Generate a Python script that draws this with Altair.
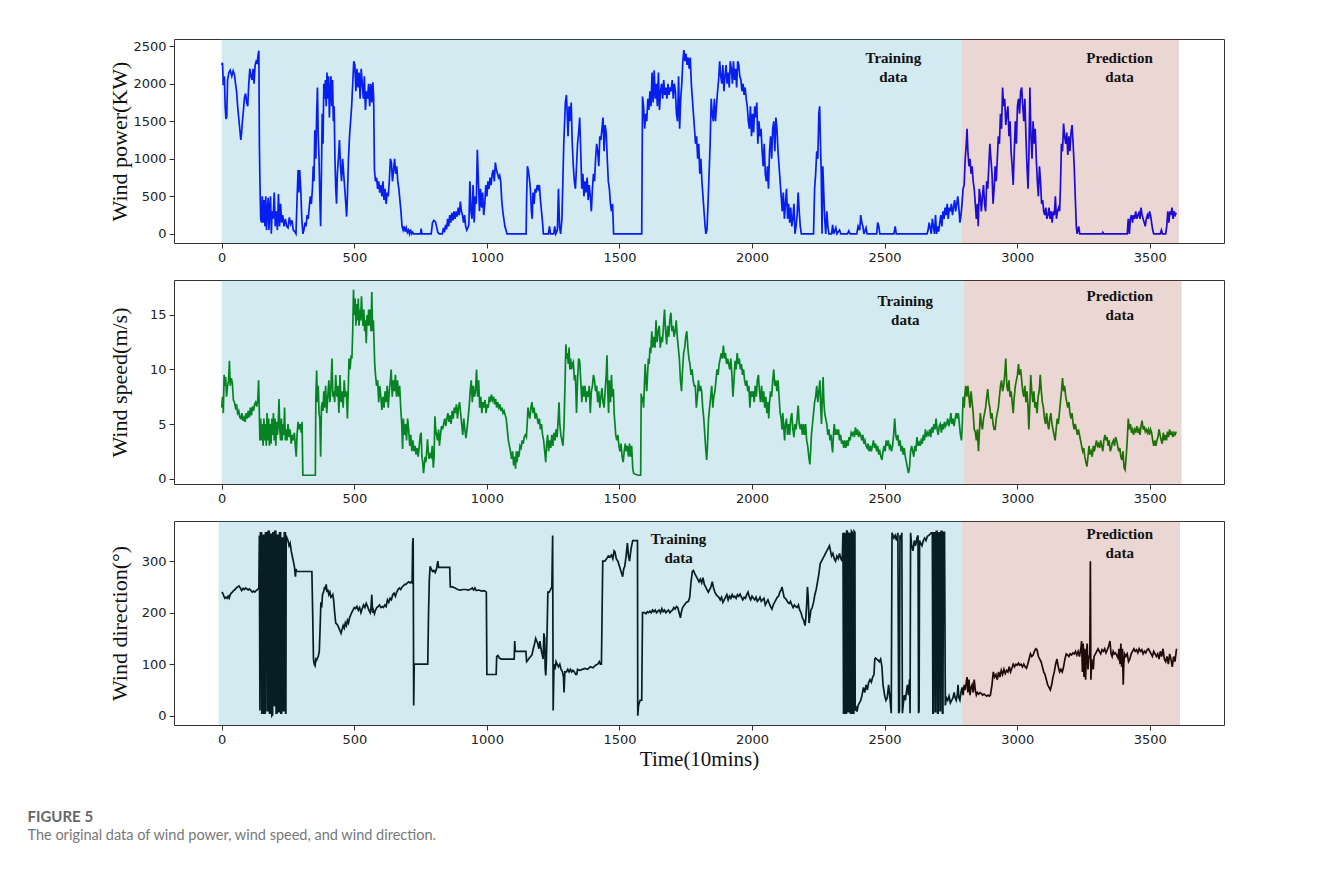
import altair as alt
import pandas as pd

# ---------------- data ----------------
X_TICKS = [0, 500, 1000, 1500, 2000, 2500, 3000, 3500]

POWER = [(0,2250),(3,2280),(6,1980),(10,2100),(13,1700),(16,1530),(19,1560),(22,2050),(27,2150),(32,2180),(38,2100),(43,2170),(48,2120),(52,2000),(56,1900),(60,1700),(64,1550),(68,1400),(72,1250),(75,1350),(78,1500),(82,1650),(86,1820),(90,1870),(94,1750),(98,1700),(102,2000),(106,2200),(110,2100),(114,2050),(118,2200),(122,2000),(126,2250),(130,2300),(134,2280),(137,2380),(140,2440),(142,1200),(144,700),(147,200),(150,150),(153,500),(156,150),(160,450),(163,100),(166,500),(169,50),(172,300),(175,480),(178,50),(181,350),(184,500),(187,0),(190,300),(194,200),(198,550),(202,100),(206,300),(210,50),(214,530),(218,100),(222,400),(226,150),(230,250),(235,100),(240,200),(245,100),(250,80),(255,220),(260,130),(265,180),(270,50),(275,30),(280,0),(284,450),(288,850),(291,550),(294,850),(298,600),(302,200),(306,0),(310,50),(314,150),(318,100),(322,250),(326,200),(330,350),(334,500),(338,400),(342,600),(345,900),(348,700),(351,1380),(355,1000),(358,1600),(361,1950),(364,1300),(367,1000),(370,500),(373,100),(376,800),(379,1600),(382,1200),(385,2000),(388,1800),(391,2050),(394,1700),(397,2150),(400,1800),(403,2100),(406,1550),(409,1900),(412,2100),(415,1700),(418,2050),(421,1500),(424,1700),(427,1000),(430,600),(433,400),(436,800),(440,1000),(444,1250),(448,900),(452,700),(456,1000),(460,800),(464,600),(468,400),(471,230),(474,500),(478,1000),(482,1300),(486,1500),(490,1700),(494,2000),(498,2300),(502,2250),(506,1900),(510,2200),(514,1950),(518,2150),(522,1800),(526,2200),(530,2000),(534,1800),(538,2100),(542,1650),(546,1900),(550,1800),(554,2000),(558,1700),(562,2000),(566,1750),(570,2020),(573,1800),(576,850),(580,700),(584,750),(588,600),(592,700),(596,550),(600,650),(604,500),(608,700),(612,450),(616,600),(620,400),(624,550),(628,500),(632,700),(636,1000),(640,950),(644,700),(648,850),(652,1000),(656,800),(660,900),(664,700),(668,600),(672,450),(676,300),(680,100),(684,50),(688,100),(692,30),(696,80),(700,20),(704,50),(708,0),(712,60),(716,0),(720,20),(724,0),(750,0),(752,70),(755,0),(790,0),(795,150),(800,180),(806,160),(810,100),(815,20),(820,0),(832,0),(836,80),(840,20),(844,120),(848,60),(852,200),(856,100),(860,250),(864,150),(868,280),(872,180),(876,300),(880,200),(884,300),(888,230),(892,350),(896,250),(900,430),(904,300),(908,250),(912,150),(916,250),(920,100),(924,50),(928,80),(932,120),(936,700),(940,300),(944,200),(948,650),(952,150),(956,500),(960,400),(964,1120),(968,700),(972,300),(976,600),(980,350),(984,550),(988,250),(992,400),(996,650),(1000,500),(1004,700),(1008,600),(1012,750),(1016,650),(1020,800),(1024,850),(1028,700),(1032,950),(1036,850),(1040,800),(1044,750),(1048,780),(1052,700),(1056,450),(1060,300),(1064,200),(1068,100),(1072,50),(1076,0),(1148,0),(1150,500),(1153,900),(1156,850),(1160,750),(1164,600),(1168,300),(1171,200),(1174,550),(1178,400),(1182,600),(1186,550),(1190,650),(1194,600),(1198,650),(1202,450),(1206,300),(1210,150),(1213,0),(1232,0),(1236,100),(1240,0),(1252,0),(1256,100),(1260,0),(1266,50),(1270,600),(1274,100),(1278,0),(1283,200),(1290,1200),(1296,1750),(1300,1850),(1303,1600),(1306,1300),(1310,1700),(1314,1500),(1318,1750),(1322,1200),(1326,900),(1330,700),(1334,600),(1338,900),(1342,1200),(1346,1350),(1350,1550),(1354,1100),(1358,600),(1362,800),(1366,500),(1370,700),(1374,550),(1378,750),(1382,450),(1386,650),(1390,500),(1394,300),(1398,600),(1402,800),(1406,700),(1410,1000),(1414,1200),(1418,1100),(1422,900),(1426,1300),(1430,1250),(1434,1400),(1438,1550),(1442,1100),(1446,1450),(1450,1350),(1454,1000),(1458,700),(1462,600),(1466,400),(1470,300),(1474,400),(1478,0),(1584,0),(1587,1830),(1591,1700),(1595,1400),(1599,1600),(1603,1500),(1607,1800),(1611,1650),(1615,1900),(1619,1700),(1623,2150),(1627,1750),(1631,2180),(1635,1800),(1639,2000),(1643,1700),(1647,2150),(1651,1650),(1655,1900),(1659,2000),(1663,1800),(1667,2050),(1671,1850),(1675,1950),(1679,1800),(1683,2000),(1687,1850),(1691,1950),(1695,1900),(1699,2050),(1703,1800),(1707,2000),(1711,1900),(1715,1600),(1719,1500),(1723,2100),(1727,1400),(1731,1800),(1735,2000),(1739,2300),(1743,2450),(1747,2300),(1751,2400),(1755,2250),(1759,2350),(1763,2200),(1767,2350),(1771,2000),(1775,1800),(1779,1600),(1783,1400),(1787,1200),(1791,1300),(1795,1000),(1799,1200),(1803,800),(1807,1000),(1811,700),(1815,500),(1819,300),(1823,100),(1826,0),(1830,50),(1834,400),(1838,800),(1842,1200),(1846,1800),(1850,1600),(1854,1500),(1858,1800),(1862,1500),(1866,1700),(1870,1900),(1874,2050),(1878,2300),(1882,2100),(1886,2000),(1890,2250),(1894,1900),(1898,2100),(1902,2250),(1906,2000),(1910,2150),(1914,1950),(1918,2300),(1922,2200),(1926,2000),(1930,2300),(1934,2050),(1938,2200),(1942,1950),(1946,2300),(1950,2250),(1954,2100),(1958,2050),(1962,1900),(1966,2000),(1970,1850),(1974,1950),(1978,1800),(1982,1700),(1986,1500),(1990,1400),(1994,1700),(1998,1300),(2002,1600),(2006,1350),(2010,1700),(2014,1550),(2018,1750),(2022,1200),(2026,1500),(2030,1300),(2034,1400),(2038,1100),(2042,900),(2046,1200),(2050,800),(2054,700),(2058,900),(2062,600),(2066,1100),(2070,1300),(2074,1000),(2078,1400),(2082,1500),(2086,1100),(2090,1550),(2094,1400),(2098,1100),(2102,900),(2106,700),(2110,500),(2114,300),(2118,550),(2122,200),(2126,400),(2130,600),(2134,200),(2138,400),(2142,150),(2146,350),(2150,100),(2154,200),(2158,400),(2162,0),(2166,100),(2170,250),(2174,550),(2178,300),(2182,100),(2186,0),(2232,0),(2236,600),(2240,800),(2244,1100),(2248,1000),(2252,1600),(2255,1700),(2258,1200),(2261,800),(2264,0),(2267,900),(2270,600),(2274,200),(2278,0),(2282,300),(2286,100),(2290,0),(2300,0),(2304,120),(2308,0),(2316,80),(2320,0),(2330,50),(2335,0),(2360,0),(2365,40),(2370,0),(2395,0),(2400,100),(2406,50),(2410,250),(2414,150),(2418,100),(2422,0),(2430,80),(2434,0),(2470,0),(2474,150),(2478,100),(2482,0),(2535,0),(2540,100),(2544,0),(2660,0),(2664,50),(2668,150),(2672,80),(2676,0),(2680,200),(2684,100),(2688,0),(2692,250),(2696,0),(2700,100),(2704,30),(2708,150),(2712,250),(2716,100),(2720,300),(2724,200),(2728,350),(2732,250),(2736,400),(2740,200),(2744,350),(2748,300),(2752,400),(2756,250),(2760,350),(2764,450),(2768,300),(2772,400),(2776,500),(2780,350),(2784,150),(2788,250),(2792,400),(2796,600),(2800,650),(2804,1000),(2808,1200),(2811,1400),(2814,1100),(2818,900),(2822,1000),(2826,800),(2830,900),(2834,700),(2838,600),(2842,400),(2846,200),(2850,400),(2853,100),(2857,600),(2861,500),(2865,300),(2869,500),(2873,650),(2877,400),(2881,300),(2885,700),(2889,600),(2893,900),(2897,1200),(2901,1000),(2905,800),(2909,400),(2913,600),(2917,900),(2921,700),(2925,1000),(2929,1300),(2933,1200),(2937,1600),(2941,1400),(2945,1950),(2949,1700),(2953,1800),(2957,1450),(2961,1600),(2965,1700),(2969,1300),(2973,1500),(2977,1100),(2981,900),(2985,650),(2989,1100),(2993,1500),(2997,1200),(3001,1700),(3005,1800),(3009,1600),(3013,1900),(3017,1950),(3021,1700),(3025,1500),(3029,1800),(3033,1300),(3037,900),(3041,600),(3044,1000),(3048,1950),(3052,1300),(3056,1000),(3060,1500),(3064,1200),(3068,1400),(3072,1000),(3076,700),(3080,500),(3084,900),(3088,700),(3092,400),(3096,450),(3100,300),(3104,250),(3108,350),(3112,200),(3116,250),(3120,350),(3124,200),(3128,300),(3132,150),(3136,300),(3140,250),(3144,500),(3148,200),(3152,300),(3156,350),(3160,300),(3163,600),(3167,1200),(3171,1100),(3175,1470),(3179,1300),(3183,1200),(3187,1350),(3191,1050),(3195,1300),(3199,1100),(3203,1350),(3207,1450),(3211,1200),(3215,900),(3219,500),(3223,100),(3226,0),(3232,100),(3236,0),(3320,0),(3323,20),(3326,0),(3415,0),(3419,200),(3423,0),(3427,200),(3431,250),(3435,150),(3439,250),(3443,200),(3447,300),(3451,200),(3455,250),(3459,280),(3463,200),(3467,350),(3471,250),(3475,200),(3479,150),(3483,100),(3487,200),(3491,250),(3495,200),(3499,300),(3503,250),(3507,150),(3511,50),(3515,0),(3540,0),(3544,50),(3548,0),(3560,0),(3564,100),(3568,300),(3572,150),(3576,300),(3580,250),(3584,350),(3588,200),(3592,300),(3596,250),(3600,280)]

SPEED = [(0,6.5),(3,7.5),(6,6.0),(9,9.5),(12,8.5),(15,9.3),(18,7.5),(22,8.5),(26,9.0),(29,10.8),(32,8.5),(36,9.2),(40,8.8),(44,7.2),(48,7.0),(52,6.5),(56,6.8),(60,6.0),(64,6.2),(68,5.6),(72,5.5),(76,6.0),(80,5.3),(84,5.6),(88,5.2),(92,6.0),(96,5.5),(100,6.2),(104,5.6),(108,6.5),(112,5.8),(116,6.6),(120,6.2),(124,6.8),(128,7.0),(132,6.6),(136,7.2),(139,9.0),(141,7.0),(144,3.5),(147,5.5),(150,3.5),(153,5.0),(156,3.0),(159,5.5),(162,3.5),(165,5.0),(168,3.0),(171,6.0),(174,3.5),(177,5.5),(180,3.0),(183,5.0),(186,3.2),(189,5.5),(192,4.0),(195,6.0),(198,3.5),(201,5.5),(204,3.0),(207,5.2),(210,4.0),(213,5.0),(216,7.3),(219,4.5),(222,3.5),(225,5.5),(228,3.5),(231,5.0),(234,4.0),(237,6.5),(240,3.5),(243,4.5),(246,3.5),(250,5.0),(254,3.8),(258,4.5),(262,3.2),(266,4.0),(270,3.5),(274,4.2),(278,2.8),(281,2.0),(284,4.0),(288,5.2),(292,4.5),(296,5.0),(300,4.2),(303,5.2),(306,0.3),(353,0.3),(355,7.5),(358,9.9),(361,7.0),(364,8.5),(367,6.0),(370,5.5),(373,2.0),(376,6.5),(379,7.0),(382,6.2),(385,8.0),(388,6.5),(392,8.5),(396,6.0),(400,7.5),(404,9.0),(408,7.0),(412,8.5),(416,11.0),(419,7.5),(422,8.0),(426,7.0),(430,9.5),(434,7.5),(438,8.5),(442,6.0),(446,9.5),(450,7.0),(454,8.0),(458,6.5),(462,9.0),(466,7.5),(470,8.0),(474,5.5),(477,8.0),(480,11.0),(484,10.0),(488,11.3),(491,11.0),(494,13.5),(497,17.3),(500,15.0),(503,16.5),(506,14.0),(509,16.0),(512,14.5),(515,16.5),(518,14.0),(521,15.5),(524,14.5),(527,16.7),(530,15.0),(533,14.0),(536,15.5),(539,13.5),(542,14.5),(545,12.4),(548,15.0),(551,14.0),(554,15.5),(557,14.0),(560,15.5),(563,13.5),(566,17.1),(569,13.5),(572,14.5),(575,12.0),(577,10.5),(580,9.5),(584,8.5),(588,9.0),(592,7.0),(596,8.5),(600,7.5),(604,6.3),(608,7.5),(612,6.5),(616,8.0),(620,7.0),(624,8.5),(628,6.5),(632,8.0),(636,9.0),(639,10.0),(643,7.5),(647,9.0),(651,8.0),(655,9.5),(659,7.5),(663,9.0),(667,7.5),(671,8.5),(675,6.5),(679,5.0),(682,2.7),(685,5.5),(689,4.0),(693,5.0),(697,3.5),(701,5.5),(705,4.5),(709,3.0),(713,4.0),(717,2.5),(721,3.5),(725,2.5),(729,3.0),(733,2.2),(737,2.8),(741,2.0),(745,3.0),(749,4.0),(752,4.2),(755,2.0),(758,1.5),(761,0.5),(764,1.2),(767,2.0),(770,1.5),(773,2.5),(776,3.6),(779,2.5),(782,1.8),(786,2.2),(790,2.0),(794,3.0),(798,1.0),(801,2.0),(804,5.7),(807,4.5),(810,4.0),(814,3.5),(818,4.5),(821,3.0),(825,4.0),(829,4.8),(833,4.5),(837,5.0),(841,5.5),(845,4.8),(849,5.5),(853,6.0),(857,5.2),(861,5.8),(865,5.0),(869,6.2),(873,5.5),(877,6.5),(881,6.0),(885,6.8),(889,5.5),(893,6.5),(897,7.0),(901,6.0),(905,5.0),(909,4.0),(913,5.5),(917,4.5),(921,3.7),(925,4.5),(929,5.5),(933,6.5),(937,8.0),(941,9.0),(945,7.0),(949,8.5),(953,7.5),(957,8.0),(961,10.0),(965,7.5),(969,9.0),(973,6.5),(977,7.5),(981,6.0),(985,7.0),(989,6.5),(993,7.2),(997,6.0),(1001,6.8),(1005,6.5),(1009,7.5),(1013,7.0),(1017,7.7),(1021,7.2),(1025,7.5),(1029,6.8),(1033,7.3),(1037,6.5),(1041,7.0),(1045,6.5),(1049,6.8),(1053,6.2),(1057,6.5),(1061,6.0),(1065,6.2),(1069,5.8),(1073,5.5),(1077,4.5),(1081,3.5),(1085,3.0),(1089,2.5),(1093,1.8),(1097,2.5),(1101,1.2),(1105,2.0),(1108,0.9),(1111,2.5),(1114,1.5),(1117,2.5),(1121,2.0),(1125,3.0),(1129,2.8),(1133,3.5),(1137,3.2),(1141,3.8),(1145,4.0),(1149,3.8),(1152,5.0),(1155,6.5),(1158,6.0),(1162,5.5),(1166,6.5),(1170,7.0),(1174,6.0),(1178,6.5),(1182,5.5),(1186,6.0),(1190,5.5),(1194,5.0),(1198,5.5),(1202,4.5),(1206,5.0),(1210,4.0),(1214,3.5),(1218,2.5),(1222,1.5),(1225,3.0),(1229,4.0),(1233,2.5),(1237,3.5),(1241,2.8),(1245,4.0),(1249,3.0),(1253,4.2),(1257,3.5),(1261,4.5),(1265,3.8),(1269,5.5),(1272,7.0),(1275,5.0),(1279,4.0),(1283,3.5),(1287,3.0),(1291,5.0),(1295,9.0),(1298,12.3),(1301,11.0),(1304,11.5),(1307,10.5),(1310,12.0),(1313,10.0),(1316,11.0),(1319,10.0),(1322,10.5),(1326,10.7),(1330,9.0),(1334,9.5),(1338,6.0),(1342,9.0),(1346,11.0),(1350,10.8),(1354,9.0),(1358,7.0),(1362,8.5),(1366,7.5),(1370,8.5),(1374,7.0),(1378,8.0),(1382,7.5),(1386,8.5),(1390,6.0),(1394,8.0),(1398,8.5),(1402,9.5),(1406,9.0),(1410,8.0),(1414,8.5),(1418,7.0),(1422,8.0),(1426,6.5),(1430,7.5),(1434,8.3),(1438,7.0),(1442,6.5),(1446,8.0),(1450,9.5),(1453,11.3),(1456,8.0),(1459,6.0),(1462,9.0),(1466,7.0),(1470,9.5),(1473,7.5),(1477,8.2),(1480,6.0),(1483,5.0),(1486,4.0),(1490,3.5),(1494,4.0),(1498,3.0),(1502,2.5),(1506,3.2),(1510,2.0),(1514,1.5),(1518,2.5),(1522,3.2),(1526,2.5),(1530,3.0),(1534,2.0),(1538,3.2),(1542,2.0),(1546,3.0),(1550,1.0),(1553,0.5),(1560,0.4),(1570,0.3),(1580,0.3),(1582,7.8),(1585,7.0),(1588,7.5),(1591,6.5),(1594,8.5),(1597,10.5),(1600,9.0),(1603,8.0),(1606,9.5),(1609,11.0),(1612,10.5),(1615,12.0),(1618,11.5),(1622,13.5),(1626,12.0),(1630,13.0),(1634,12.0),(1638,14.5),(1642,12.5),(1646,13.5),(1650,14.0),(1654,12.0),(1658,13.0),(1662,12.5),(1666,14.0),(1670,15.5),(1674,13.5),(1678,12.3),(1682,14.0),(1686,13.0),(1690,14.5),(1694,15.2),(1698,13.5),(1702,14.0),(1706,13.0),(1710,13.5),(1714,14.5),(1718,13.0),(1722,12.0),(1726,11.0),(1730,9.0),(1734,8.0),(1738,10.0),(1742,11.5),(1746,12.0),(1750,13.0),(1754,13.5),(1758,12.0),(1762,11.0),(1766,10.5),(1770,9.5),(1774,10.0),(1778,9.0),(1782,8.5),(1786,8.5),(1790,6.5),(1794,7.5),(1798,9.0),(1802,8.0),(1806,8.5),(1810,8.0),(1814,6.5),(1818,5.5),(1822,4.0),(1826,2.5),(1829,1.7),(1832,3.0),(1836,5.5),(1840,6.5),(1844,7.5),(1848,8.5),(1852,6.5),(1856,7.5),(1860,8.0),(1864,9.0),(1868,10.0),(1872,9.5),(1876,10.5),(1880,11.0),(1884,11.5),(1888,11.0),(1892,12.2),(1896,11.0),(1900,11.5),(1904,10.5),(1908,11.0),(1912,10.5),(1916,10.0),(1920,11.0),(1924,9.5),(1928,7.5),(1932,9.0),(1936,10.8),(1940,10.0),(1944,11.5),(1948,10.5),(1952,11.0),(1956,10.0),(1960,10.5),(1964,9.5),(1968,10.0),(1972,9.0),(1976,8.5),(1980,9.0),(1984,8.0),(1988,8.5),(1992,6.5),(1996,8.0),(2000,7.5),(2004,8.0),(2008,7.0),(2012,8.5),(2016,7.5),(2020,9.0),(2024,9.5),(2028,8.0),(2032,7.0),(2036,8.5),(2040,7.0),(2044,8.0),(2048,6.5),(2052,7.5),(2056,6.0),(2060,7.0),(2063,5.5),(2066,7.0),(2070,8.0),(2074,7.5),(2078,9.0),(2082,10.0),(2086,8.5),(2090,9.0),(2094,8.0),(2098,9.0),(2102,7.5),(2106,6.0),(2110,5.5),(2113,4.5),(2116,6.0),(2120,4.5),(2123,3.5),(2126,5.0),(2130,5.5),(2134,4.0),(2138,5.0),(2142,4.0),(2146,5.5),(2150,6.0),(2154,4.5),(2158,3.8),(2162,5.0),(2166,4.5),(2170,5.5),(2174,6.7),(2178,5.0),(2182,4.5),(2186,5.0),(2190,4.0),(2194,5.0),(2198,4.0),(2202,5.0),(2206,3.5),(2210,3.0),(2214,2.0),(2218,1.3),(2221,2.5),(2224,4.0),(2228,5.0),(2232,6.0),(2236,7.0),(2240,7.5),(2244,8.5),(2248,7.0),(2252,8.0),(2256,9.0),(2259,6.5),(2262,5.0),(2265,7.5),(2268,9.3),(2271,7.0),(2274,6.0),(2278,5.5),(2282,5.0),(2286,4.0),(2290,4.5),(2294,3.5),(2298,4.0),(2301,3.0),(2304,2.4),(2307,4.0),(2310,5.0),(2314,4.0),(2318,4.5),(2322,4.0),(2326,4.5),(2330,3.5),(2334,4.0),(2338,3.2),(2342,3.5),(2346,2.8),(2350,3.5),(2354,2.8),(2358,3.5),(2362,3.0),(2366,3.8),(2370,3.5),(2374,4.2),(2378,4.0),(2382,4.3),(2386,3.8),(2390,4.7),(2394,4.0),(2398,4.5),(2402,3.8),(2406,4.2),(2410,4.0),(2414,3.5),(2418,4.0),(2422,3.2),(2426,3.5),(2430,3.0),(2434,2.8),(2438,3.2),(2442,2.5),(2446,3.0),(2450,2.5),(2454,3.0),(2458,3.5),(2462,2.8),(2466,3.2),(2470,2.5),(2474,3.0),(2478,2.2),(2482,2.5),(2486,2.0),(2490,1.7),(2494,2.5),(2498,3.0),(2502,2.5),(2506,3.5),(2510,3.0),(2514,3.5),(2518,2.8),(2522,3.0),(2526,2.5),(2530,3.0),(2534,4.0),(2538,5.5),(2542,4.0),(2546,3.5),(2550,4.0),(2554,3.0),(2558,3.5),(2562,2.5),(2566,3.0),(2570,2.2),(2574,2.8),(2578,2.0),(2582,1.5),(2586,1.0),(2590,0.5),(2594,1.0),(2598,2.5),(2602,3.0),(2606,2.5),(2610,2.0),(2614,3.0),(2618,2.5),(2622,3.8),(2626,3.0),(2630,3.3),(2634,3.0),(2638,3.5),(2642,3.2),(2646,4.0),(2650,3.5),(2654,4.5),(2658,3.8),(2662,4.2),(2666,4.0),(2670,4.5),(2674,3.8),(2678,4.7),(2682,4.2),(2686,5.0),(2690,4.5),(2694,5.5),(2698,4.5),(2702,4.0),(2706,4.8),(2710,5.0),(2714,4.2),(2718,5.0),(2722,4.5),(2726,5.2),(2730,4.8),(2734,5.0),(2738,5.5),(2742,4.8),(2746,5.2),(2750,6.0),(2754,5.0),(2758,5.5),(2762,4.8),(2766,5.5),(2770,6.0),(2774,5.5),(2778,6.0),(2782,5.0),(2786,4.0),(2790,3.5),(2793,5.0),(2796,7.5),(2800,6.5),(2803,7.8),(2806,8.5),(2810,7.5),(2814,8.5),(2818,7.5),(2822,6.5),(2826,8.0),(2830,7.0),(2834,6.0),(2838,4.5),(2842,4.3),(2846,3.5),(2850,4.5),(2854,2.5),(2857,4.0),(2861,6.0),(2865,5.0),(2869,4.5),(2873,5.5),(2877,6.0),(2881,6.5),(2885,7.5),(2889,8.2),(2893,7.0),(2897,6.5),(2901,5.5),(2905,6.0),(2909,5.0),(2913,4.5),(2917,4.5),(2921,5.5),(2925,6.0),(2929,6.5),(2933,7.5),(2937,8.5),(2941,9.0),(2945,8.0),(2949,8.5),(2953,9.5),(2957,11.0),(2961,8.5),(2965,8.0),(2969,9.0),(2973,7.5),(2977,8.0),(2981,7.0),(2985,6.0),(2989,7.5),(2993,8.5),(2997,9.0),(3001,9.5),(3005,10.5),(3009,9.5),(3013,10.0),(3017,9.0),(3021,8.0),(3025,7.5),(3029,8.5),(3033,7.0),(3037,8.0),(3041,6.5),(3044,4.5),(3048,7.0),(3051,9.5),(3055,8.0),(3059,7.0),(3063,8.0),(3067,6.5),(3071,7.0),(3075,6.0),(3079,7.5),(3083,8.0),(3087,9.5),(3091,8.0),(3095,7.0),(3099,6.5),(3103,5.5),(3107,5.0),(3111,6.0),(3115,5.0),(3119,4.5),(3123,5.5),(3127,6.0),(3131,5.0),(3135,4.5),(3139,4.0),(3143,3.5),(3147,4.5),(3151,5.5),(3155,5.0),(3159,6.0),(3163,7.0),(3167,8.0),(3171,9.2),(3175,8.0),(3179,8.5),(3183,7.5),(3187,7.0),(3191,6.5),(3195,7.0),(3199,6.0),(3203,5.5),(3207,6.0),(3211,5.0),(3215,4.5),(3219,5.0),(3223,4.5),(3227,4.0),(3231,4.5),(3235,4.0),(3239,3.5),(3243,3.0),(3247,2.5),(3251,2.8),(3255,2.0),(3259,1.5),(3263,1.1),(3267,2.0),(3271,3.0),(3275,2.2),(3279,2.5),(3283,2.0),(3287,3.0),(3291,2.5),(3295,3.0),(3299,3.5),(3303,3.0),(3307,3.2),(3311,2.8),(3315,3.5),(3319,3.0),(3323,2.5),(3327,3.5),(3331,4.0),(3335,3.5),(3339,3.8),(3343,3.0),(3347,3.5),(3351,2.5),(3355,2.8),(3359,3.3),(3363,3.5),(3367,3.0),(3371,3.8),(3375,3.5),(3379,3.0),(3383,2.5),(3387,2.8),(3391,2.0),(3395,1.7),(3399,2.5),(3403,1.0),(3407,0.8),(3411,2.0),(3415,3.5),(3419,5.5),(3423,4.5),(3427,5.0),(3431,4.2),(3435,4.5),(3439,4.0),(3443,4.5),(3447,4.3),(3451,4.8),(3455,4.2),(3459,4.5),(3463,4.0),(3467,4.8),(3471,5.3),(3475,4.5),(3479,4.8),(3483,4.3),(3487,4.5),(3491,4.2),(3495,4.5),(3499,4.0),(3503,4.5),(3507,4.2),(3511,3.5),(3515,3.0),(3519,3.5),(3523,3.0),(3527,3.5),(3531,3.8),(3535,4.5),(3539,4.0),(3543,3.5),(3547,3.2),(3551,4.2),(3555,3.5),(3559,4.0),(3563,3.5),(3567,4.3),(3571,3.8),(3575,4.5),(3579,4.0),(3583,4.3),(3587,3.8),(3591,4.2),(3595,4.0),(3600,4.3)]

DIRECTION = [(0,240),(4,238),(8,232),(12,228),(16,230),(20,228),(24,232),(28,228),(32,235),(36,238),(40,240),(45,243),(50,245),(55,248),(60,250),(65,252),(70,248),(75,243),(80,247),(85,245),(90,248),(95,246),(100,244),(105,246),(110,243),(115,240),(120,242),(125,240),(130,243),(135,245),(140,247),(142,350),(144,10),(146,355),(150,355),(151,5),(155,5),(156,350),(160,350),(161,5),(164,5),(165,355),(170,355),(171,10),(174,10),(175,358),(179,358),(180,5),(183,5),(184,352),(188,352),(189,0),(192,2),(193,355),(196,355),(197,20),(199,20),(200,358),(204,358),(205,5),(208,5),(209,350),(213,350),(214,8),(217,8),(218,355),(222,355),(223,5),(226,5),(227,345),(231,345),(232,10),(235,10),(236,355),(240,355),(241,5),(242,5),(243,350),(246,345),(250,340),(254,330),(258,335),(262,320),(266,310),(270,300),(274,290),(278,270),(280,285),(283,280),(340,280),(343,200),(346,110),(349,100),(352,97),(355,110),(358,108),(361,112),(364,115),(368,125),(371,170),(374,220),(377,210),(380,235),(384,240),(388,250),(391,245),(394,255),(397,240),(400,245),(404,235),(408,240),(412,230),(416,232),(419,235),(422,225),(426,200),(430,180),(434,178),(438,175),(442,170),(446,165),(450,160),(454,168),(458,175),(462,170),(466,180),(470,175),(474,185),(478,180),(482,190),(486,195),(490,200),(495,205),(500,210),(505,208),(510,212),(515,205),(520,210),(525,200),(530,208),(535,215),(540,210),(545,218),(550,212),(555,205),(560,200),(563,210),(566,235),(569,200),(572,205),(576,198),(580,205),(585,210),(590,212),(595,215),(600,210),(605,212),(610,210),(615,215),(620,212),(625,225),(630,220),(635,228),(640,225),(645,235),(650,238),(655,232),(660,240),(665,245),(670,248),(675,245),(680,250),(685,252),(690,255),(695,255),(700,258),(705,260),(710,258),(715,260),(718,258),(720,335),(722,345),(724,20),(726,100),(777,100),(780,200),(783,265),(786,290),(790,285),(795,280),(800,282),(805,278),(810,285),(815,300),(818,288),(860,288),(862,250),(870,250),(880,248),(890,245),(900,244),(910,245),(920,245),(930,244),(940,246),(945,248),(950,244),(955,248),(960,243),(970,244),(980,242),(990,243),(998,240),(1000,80),(1035,80),(1037,115),(1042,117),(1047,112),(1054,110),(1103,110),(1105,145),(1107,125),(1147,125),(1150,105),(1155,108),(1160,112),(1165,115),(1170,118),(1175,130),(1180,140),(1184,150),(1188,145),(1192,140),(1196,130),(1200,145),(1204,130),(1208,120),(1212,110),(1215,160),(1218,150),(1220,90),(1222,78),(1224,100),(1227,160),(1230,240),(1235,240),(1240,245),(1245,250),(1248,350),(1250,10),(1253,100),(1257,90),(1261,105),(1265,100),(1270,95),(1275,100),(1280,90),(1285,85),(1289,75),(1291,45),(1294,85),(1300,85),(1305,90),(1310,85),(1315,90),(1320,85),(1325,88),(1330,85),(1335,80),(1339,80),(1342,90),(1350,88),(1360,90),(1370,92),(1380,90),(1390,95),(1400,93),(1410,98),(1418,100),(1424,105),(1428,100),(1432,100),(1437,300),(1445,300),(1452,305),(1458,310),(1464,308),(1470,312),(1475,305),(1480,320),(1483,318),(1488,305),(1494,300),(1500,290),(1506,280),(1512,270),(1516,285),(1520,290),(1525,310),(1530,335),(1534,310),(1538,300),(1544,325),(1550,340),(1568,340),(1569,0),(1572,20),(1578,30),(1584,30),(1587,200),(1595,200),(1600,198),(1605,202),(1610,200),(1615,203),(1620,200),(1625,205),(1630,202),(1635,205),(1640,200),(1645,203),(1650,205),(1655,200),(1660,208),(1665,202),(1670,205),(1675,200),(1680,203),(1685,205),(1690,200),(1695,203),(1700,205),(1705,210),(1710,207),(1715,212),(1720,210),(1725,200),(1730,190),(1733,200),(1738,210),(1745,215),(1752,220),(1760,222),(1765,230),(1770,260),(1775,280),(1779,282),(1785,275),(1790,270),(1795,265),(1800,260),(1805,265),(1810,258),(1815,268),(1820,255),(1825,250),(1830,245),(1835,240),(1840,245),(1845,250),(1850,260),(1855,248),(1860,240),(1865,235),(1870,232),(1875,230),(1880,225),(1885,230),(1890,220),(1895,225),(1900,230),(1905,235),(1910,225),(1915,232),(1920,228),(1925,235),(1930,230),(1935,232),(1940,228),(1945,235),(1950,232),(1955,236),(1960,230),(1965,225),(1970,230),(1975,228),(1980,235),(1985,240),(1990,230),(1995,225),(2000,232),(2005,228),(2010,225),(2015,230),(2020,222),(2025,225),(2030,230),(2035,222),(2040,225),(2045,228),(2050,215),(2055,220),(2060,225),(2065,218),(2070,212),(2075,207),(2080,215),(2085,220),(2090,225),(2095,230),(2100,232),(2105,240),(2110,245),(2113,250),(2117,240),(2121,230),(2125,228),(2130,225),(2135,220),(2140,218),(2145,222),(2150,215),(2155,210),(2160,215),(2165,212),(2170,210),(2175,215),(2180,205),(2185,200),(2190,190),(2195,185),(2200,175),(2203,190),(2206,215),(2209,250),(2212,230),(2215,180),(2218,190),(2222,205),(2227,210),(2232,220),(2237,235),(2242,245),(2247,260),(2252,275),(2257,295),(2262,300),(2267,305),(2272,310),(2277,315),(2282,320),(2287,325),(2292,330),(2296,320),(2300,310),(2305,315),(2310,305),(2315,300),(2320,310),(2325,305),(2330,315),(2335,305),(2340,300),(2343,355),(2345,5),(2348,5),(2349,355),(2352,350),(2353,5),(2356,5),(2357,360),(2361,355),(2362,8),(2366,8),(2367,355),(2370,352),(2371,5),(2374,5),(2375,358),(2379,355),(2380,5),(2384,5),(2385,358),(2388,356),(2389,10),(2393,15),(2396,8),(2400,20),(2405,25),(2410,30),(2415,40),(2420,55),(2425,45),(2430,60),(2435,50),(2440,65),(2445,70),(2450,65),(2455,75),(2460,80),(2463,110),(2466,112),(2470,110),(2475,108),(2480,105),(2485,110),(2490,95),(2494,60),(2500,40),(2505,30),(2510,35),(2515,60),(2520,35),(2525,5),(2528,355),(2535,345),(2540,350),(2545,340),(2550,355),(2553,5),(2556,10),(2558,350),(2562,345),(2565,355),(2567,5),(2570,20),(2574,40),(2578,30),(2582,45),(2586,60),(2590,40),(2594,70),(2596,5),(2598,355),(2602,330),(2607,320),(2612,340),(2617,330),(2622,345),(2626,350),(2628,5),(2630,10),(2632,340),(2636,335),(2641,330),(2646,340),(2651,345),(2656,340),(2661,348),(2666,350),(2671,352),(2676,355),(2680,355),(2682,5),(2684,5),(2686,355),(2689,355),(2691,8),(2693,8),(2695,358),(2698,358),(2700,5),(2702,5),(2704,355),(2707,355),(2709,10),(2711,10),(2713,358),(2716,358),(2718,5),(2720,5),(2722,356),(2726,356),(2729,20),(2733,35),(2738,30),(2743,38),(2748,25),(2753,30),(2758,35),(2762,45),(2766,35),(2770,30),(2774,40),(2777,60),(2780,35),(2784,30),(2788,45),(2792,55),(2796,40),(2800,60),(2804,50),(2808,65),(2811,75),(2814,45),(2818,70),(2822,40),(2826,55),(2830,60),(2834,45),(2838,70),(2842,50),(2846,40),(2850,45),(2855,42),(2860,45),(2865,43),(2870,40),(2875,42),(2880,40),(2885,38),(2890,40),(2895,38),(2899,40),(2905,60),(2910,85),(2915,75),(2920,80),(2925,70),(2930,85),(2935,75),(2940,88),(2945,80),(2950,90),(2955,82),(2960,88),(2965,85),(2970,95),(2975,85),(2980,92),(2985,100),(2990,95),(2995,100),(3000,98),(3005,102),(3010,98),(3015,100),(3020,95),(3025,100),(3030,95),(3035,92),(3040,100),(3045,110),(3050,120),(3055,115),(3060,118),(3065,125),(3070,130),(3075,128),(3080,115),(3085,110),(3090,105),(3095,95),(3100,85),(3105,80),(3110,70),(3115,60),(3120,55),(3125,50),(3130,60),(3135,75),(3140,85),(3145,100),(3150,110),(3155,95),(3160,85),(3165,90),(3170,85),(3175,95),(3180,110),(3185,120),(3190,118),(3195,115),(3200,120),(3205,118),(3210,122),(3215,120),(3220,125),(3225,118),(3230,125),(3235,115),(3240,130),(3243,145),(3246,85),(3249,140),(3252,75),(3255,130),(3258,70),(3261,120),(3264,140),(3267,90),(3270,110),(3274,120),(3276,300),(3278,70),(3281,110),(3284,95),(3287,90),(3290,115),(3295,120),(3300,125),(3305,130),(3310,125),(3315,120),(3320,128),(3325,125),(3330,130),(3335,122),(3340,128),(3345,135),(3350,145),(3354,120),(3358,115),(3362,125),(3366,120),(3370,122),(3375,118),(3380,112),(3384,130),(3388,100),(3391,140),(3394,95),(3397,130),(3400,60),(3402,100),(3405,120),(3410,115),(3415,120),(3420,105),(3425,110),(3430,120),(3435,125),(3440,130),(3445,125),(3450,128),(3455,122),(3460,130),(3465,125),(3470,128),(3475,120),(3480,125),(3485,122),(3490,128),(3495,130),(3500,125),(3505,120),(3510,115),(3515,125),(3520,120),(3525,115),(3530,120),(3535,110),(3540,125),(3545,115),(3550,130),(3555,110),(3560,105),(3565,115),(3570,100),(3575,120),(3580,110),(3585,95),(3590,115),(3595,105),(3601,130)]

# span edges per panel: (training start, training/prediction boundary, prediction end)
POWER_SPAN = (0, 2790, 3610)
SPEED_SPAN = (0, 2800, 3620)
DIR_SPAN = (-12, 2793, 3614)

# label anchors per panel (first text line): (training x, training y, prediction x, prediction y)
POWER_LABELS = (2533, 2348, 3386, 2348)
SPEED_LABELS = (2578, 16.3, 3387, 16.7)
DIR_LABELS = (1723, 343, 3387, 352)

TRAIN_TINT = "#1e96b4"
PRED_TINT = "#963723"

W, H = 1050, 204
X_DOMAIN = [-180, 3780]


def panel(series, span, labels, color, y_title, y_domain, y_ticks, show_x_title):
    df = pd.DataFrame(series, columns=["t", "v"])
    x_axis = alt.Axis(values=X_TICKS, format="d", grid=False, domain=False, tickSize=5,
                      labelFont="DejaVu Sans", labelFontSize=13, labelColor="#222",
                      tickColor="#333", labelPadding=3, labelFlush=False,
                      title="Time(10mins)" if show_x_title else None,
                      titleFont="Liberation Serif", titleFontSize=21,
                      titleFontWeight="normal", titleColor="#111", titlePadding=2)
    y_axis = alt.Axis(values=y_ticks, format="d", grid=False, domain=False, tickSize=5,
                      labelFont="DejaVu Sans", labelFontSize=13, labelColor="#222",
                      tickColor="#333", labelPadding=3,
                      title=y_title, titleFont="Liberation Serif", titleFontSize=22,
                      titleFontWeight="normal", titleColor="#111",
                      titleX=-55, titleY=H / 2, titleAngle=-90,
                      titleAlign="center", titleBaseline="middle")
    line = alt.Chart(df).mark_line(color=color, strokeWidth=1.7, clip=True).encode(
        x=alt.X("t:Q", scale=alt.Scale(domain=X_DOMAIN, nice=False, zero=False), axis=x_axis),
        y=alt.Y("v:Q", scale=alt.Scale(domain=y_domain, nice=False, zero=False), axis=y_axis),
    )
    spans_df = pd.DataFrame({
        "x0": [span[0], span[1]],
        "x1": [span[1], span[2]],
        "c": [TRAIN_TINT, PRED_TINT],
    })
    spans = alt.Chart(spans_df).mark_rect(opacity=0.2).encode(
        x="x0:Q", x2="x1:Q", color=alt.Color("c:N", scale=None, legend=None)
    )
    text_df = pd.DataFrame({
        "x": [labels[0], labels[2]],
        "y": [labels[1], labels[3]],
        "label": ["Training\ndata", "Prediction\ndata"],
    })
    texts = alt.Chart(text_df).mark_text(
        font="Liberation Serif", fontWeight="bold", fontSize=15, lineHeight=19,
        lineBreak="\n", baseline="middle", align="center", color="#111"
    ).encode(x="x:Q", y="y:Q", text="label:N")
    return alt.layer(line, spans, texts).properties(width=W, height=H)


p1 = panel(POWER, POWER_SPAN, POWER_LABELS, "#0000ff", "Wind power(KW)",
           [-122, 2596], [0, 500, 1000, 1500, 2000, 2500], False)
p2 = panel(SPEED, SPEED_SPAN, SPEED_LABELS, "#008000", "Wind speed(m/s)",
           [-0.5, 18.2], [0, 5, 10, 15], False)
p3 = panel(DIRECTION, DIR_SPAN, DIR_LABELS, "#000000", "Wind direction(°)",
           [-18, 378], [0, 100, 200, 300], True)

chart = alt.vconcat(p1, p2, p3, spacing=37, bounds="flush").properties(
    padding={"left": 19, "top": 30, "right": 10, "bottom": 10},
    title=alt.TitleParams(
        text="FIGURE 5",
        subtitle="The original data of wind power, wind speed, and wind direction.",
        orient="bottom", anchor="start", dx=-80, offset=40,
        font="Lato", fontSize=15, fontWeight="bold", color="#666",
        subtitleFont="Lato", subtitleFontSize=14.5, subtitleFontWeight="normal",
        subtitleColor="#777", subtitlePadding=4,
    ),
).configure(background="white").configure_view(stroke="#333", strokeWidth=1)

chart.save("out.html", embed_options={"renderer": "svg", "actions": False})
